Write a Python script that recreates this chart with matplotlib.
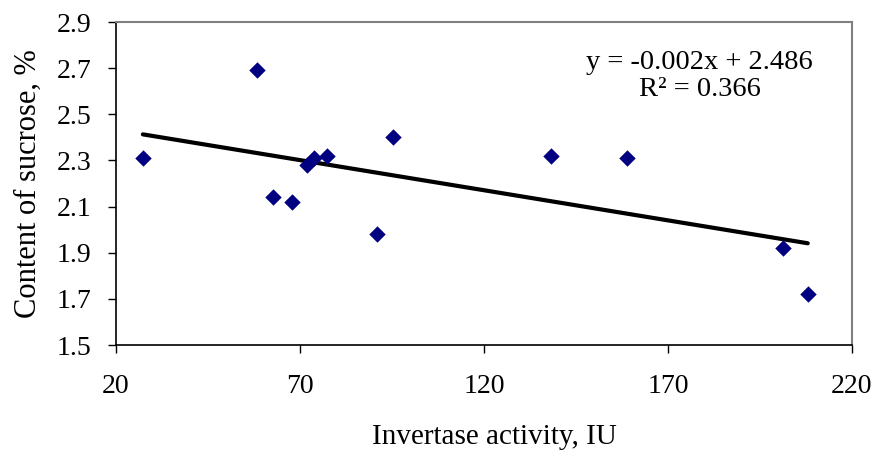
import numpy as np
import matplotlib
matplotlib.use('Agg')
import matplotlib.pyplot as plt

plt.rcParams['font.family'] = ['Liberation Serif', 'DejaVu Serif']

# invertase activity (IU) vs sucrose content (%)
activity = [27.3, 58.2, 62.7, 67.8, 71.8, 73.9, 77.3, 90.8, 95.2, 138.1, 158.9, 201.3, 208.0]
sucrose = [2.31, 2.69, 2.14, 2.12, 2.28, 2.31, 2.32, 1.98, 2.40, 2.32, 2.31, 1.92, 1.72]

x_ticks = [20, 70, 120, 170, 220]
y_ticks = [1.5, 1.7, 1.9, 2.1, 2.3, 2.5, 2.7, 2.9]

x = np.array(activity)
y = np.array(sucrose)
slope, intercept = np.polyfit(x, y, 1)

fig = plt.figure(figsize=(8.75, 4.5), dpi=100)
ax = fig.add_axes([0.1326, 0.2333, 0.841, 0.7177])

ax.scatter(x, y, marker='D', s=70, color='#000080', zorder=3, linewidths=0)
xl = np.array([x.min(), x.max()])
ax.plot(xl, slope * xl + intercept, color='black', lw=3, solid_capstyle='round', zorder=2)

ax.set_xlim(20, 220)
ax.set_ylim(1.5, 2.9)
ax.set_xticks(x_ticks)
ax.set_yticks(y_ticks)
ax.set_xticklabels([str(t) for t in x_ticks])
ax.set_yticklabels([f'{t:.1f}' for t in y_ticks])
ax.tick_params(direction='out', length=6, width=1, labelsize=20)
ax.tick_params(axis='y', pad=12)
ax.tick_params(axis='x', pad=15)

for s in ['top', 'right']:
    ax.spines[s].set_color('#808080')
    ax.spines[s].set_linewidth(1.5)
for s in ['left', 'bottom']:
    ax.spines[s].set_color('black')
    ax.spines[s].set_linewidth(1.2)

ax.set_xlabel('Invertase activity, IU', fontsize=21, labelpad=18)
ax.xaxis.label.set_x(0.514)
ax.set_ylabel('Content of sucrose, %', fontsize=22, labelpad=10)

ax.text(0.793, 0.833, 'y = -0.002x + 2.486\nR² = 0.366', transform=ax.transAxes,
        ha='center', va='center', fontsize=20.5, linespacing=1.12)

fig.savefig('out.png', dpi=100)
